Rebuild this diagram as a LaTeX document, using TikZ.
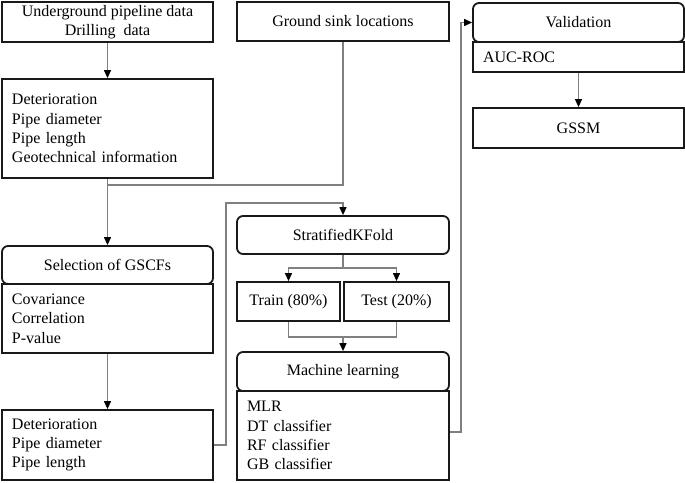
\documentclass[tikz,border=0pt]{standalone}
\usepackage{fontspec}
\setmainfont{Liberation Serif}
\usepackage{tikz}
\usetikzlibrary{arrows.meta}

\begin{document}
\begin{tikzpicture}[x=1pt,y=-1pt,
  >={Triangle[length=8pt,width=7pt,color=black]},
  box/.style={draw=black!90,line width=1.8pt,fill=white,inner sep=0pt,
    font=\fontsize{16}{19.3}\selectfont,align=center},
  head/.style={box,rounded corners=6pt},
  list/.style={box,align=left,text width=#1},
  line/.style={draw=black!50,line width=1.2pt}]
\useasboundingbox (0,0) rectangle (685,482);

\node[box,minimum width=211pt,minimum height=40pt] (src) at (107.5,22) {Underground pipeline data\\Drilling\ \ data};
\node[box,minimum width=212pt,minimum height=39pt] (sink) at (343,21.5) {Ground sink locations};
\node[list=191pt,minimum width=211pt,minimum height=99pt] (feat) at (107.5,128.5) {Deterioration\\Pipe diameter\\Pipe length\\Geotechnical information};

\node[list=191pt,minimum width=211pt,minimum height=69pt] (selb) at (107.5,318.5) {Covariance\\Correlation\\P-value};
\node[head,minimum width=211pt,minimum height=38pt] (selh) at (107.5,265) {Selection of GSCFs};
\node[list=191pt,minimum width=211pt,minimum height=70pt] (red) at (107.5,445) {Deterioration\\Pipe diameter\\Pipe length};

\node[head,minimum width=212pt,minimum height=38pt] (skf) at (343,235) {StratifiedKFold};
\node[box,minimum width=103pt,minimum height=39pt] (train) at (288.5,301.5) {Train (80\%)};
\node[box,minimum width=105pt,minimum height=39pt] (test) at (396.5,301.5) {Test (20\%)};
\node[list=192pt,minimum width=212pt,minimum height=89pt] (mlb) at (343,435.5) {MLR\\DT classifier\\RF classifier\\GB classifier};
\node[head,minimum width=212pt,minimum height=39pt] (mlh) at (343,371.5) {Machine learning};

\node[list=191pt,minimum width=211pt,minimum height=30pt] (valb) at (578.5,57) {AUC-ROC};
\node[head,minimum width=211pt,minimum height=39pt] (valh) at (578.5,22.5) {Validation};
\node[box,minimum width=211pt,minimum height=40pt] (gssm) at (578.5,128) {GSSM};

\coordinate (j1) at (107.5,185);
\coordinate (k1) at (226,203);
\coordinate (k2) at (343,268);
\coordinate (k3) at (343,337);
\coordinate (k4) at (461,22.5);

\path[line,->] (src) edge (feat);
\path[line] (sink) |- (j1);
\path[line,->] (feat) edge (selh);
\path[line,->] (selb) edge (red);
\path[line,->] (red.east) -| (k1) -| (skf.north);
\path[line] (skf) -- (k2);
\path[line,->] (k2) -| (train);
\path[line,->] (k2) -| (test);
\path[line] (train) |- (k3);
\path[line] (test) |- (k3);
\path[line,->] (k3) -- (mlh);
\path[line,->] ([yshift=3.5pt]mlb.east) -| (k4) -- (valh.west);
\path[line,->] (valb) edge (gssm);
\end{tikzpicture}
\end{document}
